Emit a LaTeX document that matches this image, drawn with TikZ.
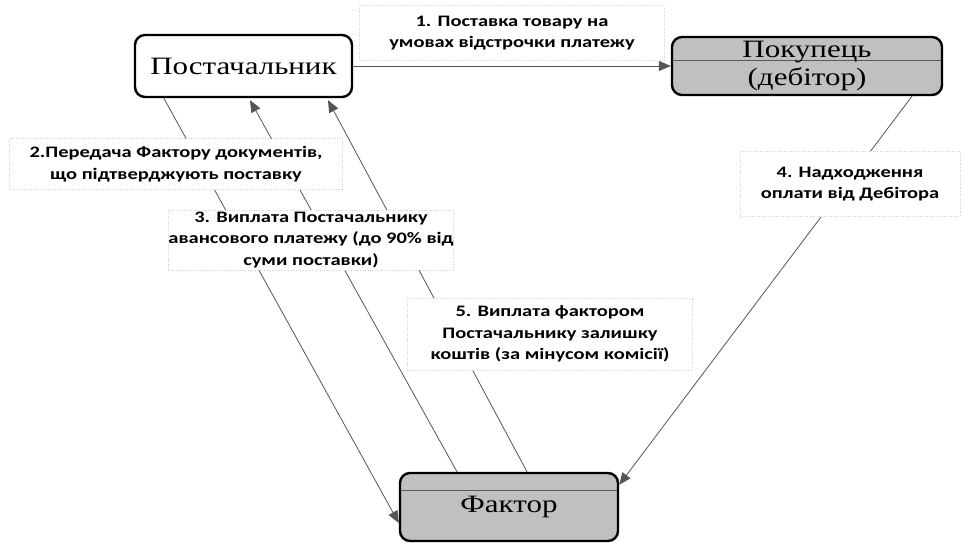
\documentclass[tikz,border=0pt]{standalone}
\usepackage{fontspec}
\setmainfont{Liberation Serif}[FakeStretch=1.24]
\newfontfamily\labfont{Carlito}[FakeStretch=1.28]
\usetikzlibrary{arrows.meta,calc}
\definecolor{boxgray}{RGB}{192,192,192}
\definecolor{linegray}{RGB}{85,85,85}
\begin{document}
\begin{tikzpicture}[x=1pt,y=-1pt,
  every node/.style={inner sep=0pt},
  entity/.style={draw=black, line width=2.4pt, rounded corners=10pt,
    font=\fontsize{25}{28}\selectfont, align=center},
  plainbox/.style={entity, fill=white},
  grayed/.style={entity, fill=boxgray,
    path picture={\draw[black!65, line width=0.6pt]
      ($(path picture bounding box.north west)+(0,#1)$) --
      ($(path picture bounding box.north east)+(0,#1)$);}},
  lbl/.style={fill=white, draw=gray!35, dotted, align=center,
    font=\labfont\bfseries\fontsize{16}{21.5}\selectfont},
  conn/.style={draw=linegray, line width=0.8pt,
    -{Triangle[length=12pt,width=10pt]}}
]
\useasboundingbox (0,0) rectangle (963,543);

% entities
\node[plainbox, minimum width=217pt, minimum height=62pt] (sup) at (243.5,66) {Постачальник};
\node[grayed=23, minimum width=270pt, minimum height=58pt] (buy) at (807,66) {Покупець\\(дебітор)};
\node[grayed=17, minimum width=218pt, minimum height=68pt] (fac) at (509,507) {Фактор};

% connectors
\draw[conn] (sup.east) -- (buy.west);
\draw[conn] ($(sup.south west)+(30,0)$) -- ($(fac.west)+(0,16)$);
\draw[conn] ($(fac.north)+(-52,0)$) -- ($(sup.south)+(6.5,2)$);
\draw[conn] ($(fac.north)+(18,0)$) -- ($(sup.south)+(84.5,2)$);
\draw[conn] ($(buy.south)+(105,0)$) -- ($(fac.north east)+(0,13)$);

% labels
\node[lbl, minimum width=305pt, minimum height=55pt] (l1) at (512,33)
  {1. Поставка товару на\\умовах відстрочки платежу};
\node[lbl, minimum width=333pt, minimum height=51pt] (l2) at (176,164)
  {2.Передача Фактору документів,\\що підтверджують поставку};
\node[lbl, minimum width=278pt, minimum height=60pt] (l3) at (311,240)
  {3. Виплата Постачальнику\\авансового платежу (до 90\% від\\суми поставки)};
\node[lbl, minimum width=220pt, minimum height=65pt] (l4) at (850,184)
  {4. Надходження\\оплати від Дебітора};
\node[lbl, minimum width=285pt, minimum height=72pt] (l5) at (550,334)
  {5. Виплата фактором\\Постачальнику залишку\\коштів (за мінусом комісії)};
\end{tikzpicture}
\end{document}
